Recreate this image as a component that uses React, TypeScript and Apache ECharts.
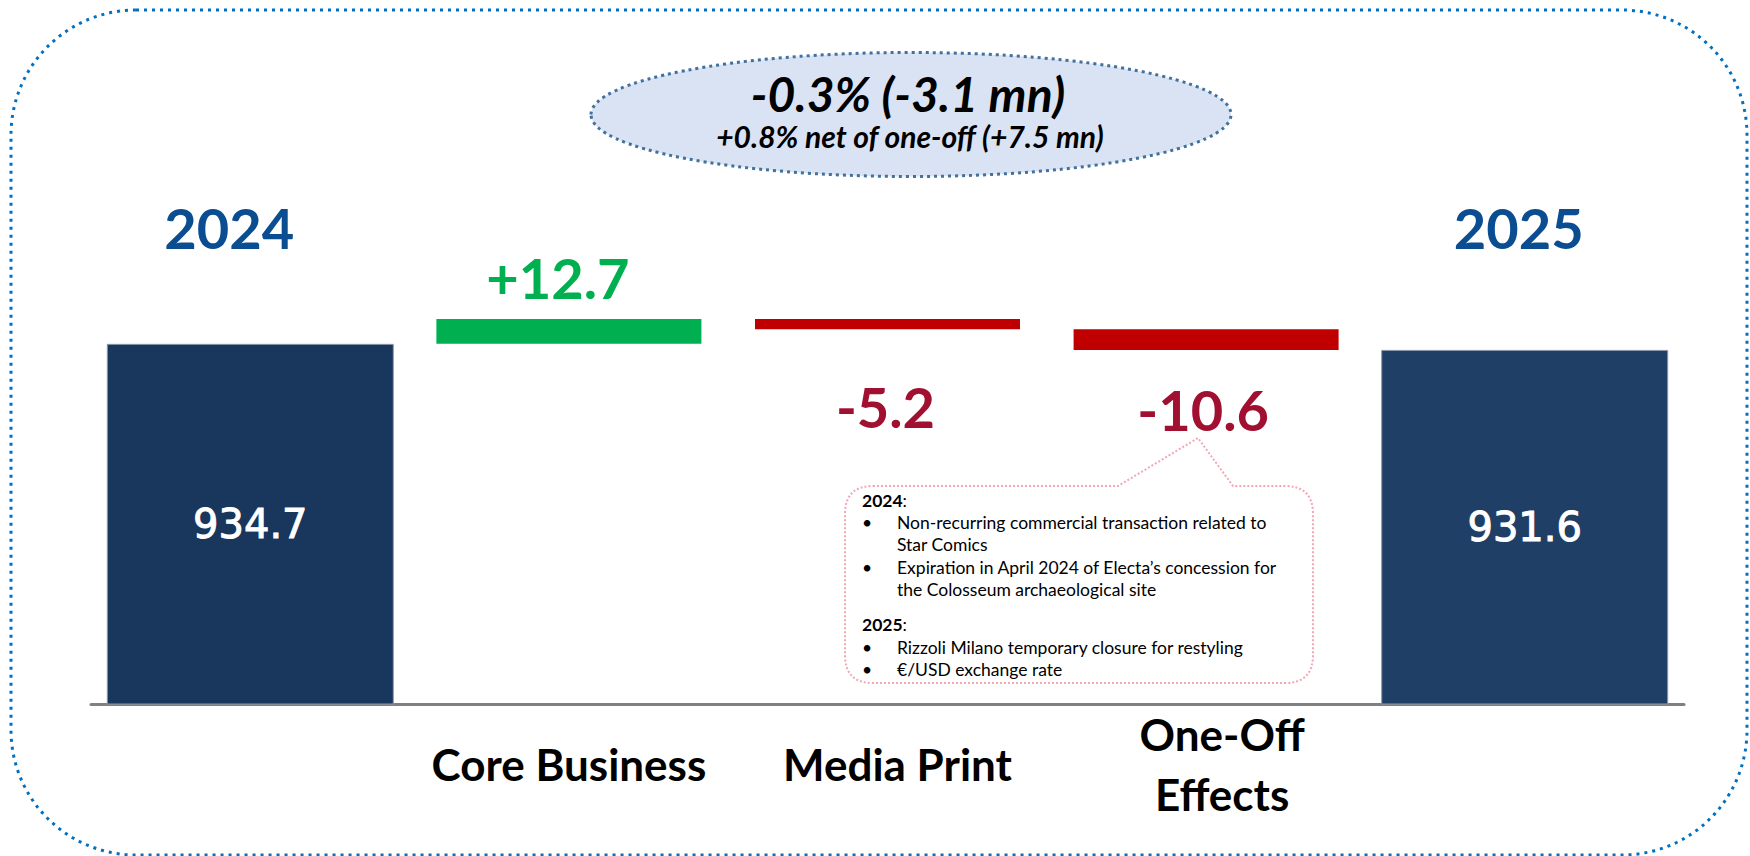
import React, { useEffect, useRef } from "react";
import * as echarts from "echarts";

// ---------- data ----------
const categories = ["2024", "Core Business", "Media Print", "One-Off Effects", "2025"];
const startValue = 934.7;
const endValue = 931.6;
const deltaValues = [12.7, -5.2, -10.6];
const deltaLabels = ["+12.7", "-5.2", "-10.6"];
const totalLabels = ["934.7", "931.6"];
const axisMin = 750;
const axisMax = 950;

const headline = "-0.3% (-3.1 mn)";
const subline = "+0.8% net of one-off (+7.5 mn)";

const noteSections = [
  {
    title: "2024",
    items: [
      ["Non-recurring commercial transaction related to", "Star Comics"],
      ["Expiration in April 2024 of Electa\u2019s concession for", "the Colosseum archaeological site"],
    ],
  },
  {
    title: "2025",
    items: [["Rizzoli Milano temporary closure for restyling"], ["\u20ac/USD exchange rate"]],
  },
];

// ---------- styles ----------
const FONT = "Lato, 'Open Sans', sans-serif";
const totalColors = ["#19365D", "#203F66"];
const upColor = "#00B050";
const downColor = "#C00000";
const upText = "#00B050";
const downText = "#A11030";
const yearColor = "#0A4D91";
const NOTE_FS = 17.5;
const CAT_FS = 44;

export default function App() {
  const ref = useRef<HTMLDivElement>(null);

  useEffect(() => {
    const el = ref.current;
    if (!el) return;

    // callout shape
    const L = 845, R = 1313, T = 486, B = 683, r = 28;
    const p1 = 1118, p2 = 1233, tipX = 1198, tipY = 438;
    const d =
      `M ${L + r} ${T} L ${p1} ${T} L ${tipX} ${tipY} L ${p2} ${T} L ${R - r} ${T} ` +
      `Q ${R} ${T} ${R} ${T + r} L ${R} ${B - r} Q ${R} ${B} ${R - r} ${B} ` +
      `L ${L + r} ${B} Q ${L} ${B} ${L} ${B - r} L ${L} ${T + r} Q ${L} ${T} ${L + r} ${T} Z`;
    echarts.graphic.registerShape("calloutBox", echarts.graphic.extendPath(d, {}));

    const chart = echarts.init(el, null, { renderer: "svg" });

    // waterfall computation
    const n = categories.length;
    const totalsData: any[] = [];
    for (let i = 0; i < n; i++) totalsData.push("-");
    totalsData[0] = {
      value: startValue,
      itemStyle: { color: totalColors[0] },
      label: { formatter: totalLabels[0] },
    };
    totalsData[n - 1] = {
      value: endValue,
      itemStyle: { color: totalColors[1] },
      label: { formatter: totalLabels[1] },
    };

    const labelLayout = [
      { position: "top", distance: 14, offset: [-11, 0] },
      { position: "bottom", distance: 49, offset: [-2, 0] },
      { position: "bottom", distance: 32, offset: [-3, 0] },
    ];

    const baseData: any[] = ["-"];
    const deltaData: any[] = ["-"];
    let running = startValue;
    deltaValues.forEach((dv, i) => {
      const next = running + dv;
      baseData.push(+Math.min(running, next).toFixed(3));
      const up = dv >= 0;
      deltaData.push({
        value: Math.abs(dv),
        itemStyle: { color: up ? upColor : downColor },
        label: {
          show: true,
          formatter: deltaLabels[i],
          color: up ? upText : downText,
          fontFamily: FONT,
          fontWeight: "bold",
          fontSize: 56,
          ...labelLayout[i],
        },
      });
      running = next;
    });
    baseData.push("-");
    deltaData.push("-");

    // notes
    const noteGraphics: any[] = [];
    let y = 500;
    const step = 22.4;
    noteSections.forEach((sec, si) => {
      if (si > 0) y += 12.6;
      noteGraphics.push({
        type: "text",
        style: {
          text: `{b|${sec.title}}:`,
          x: 862,
          y,
          fill: "#000",
          font: `${NOTE_FS}px ${FONT}`,
          verticalAlign: "middle",
          rich: { b: { fontWeight: "bold", fontSize: NOTE_FS, fontFamily: FONT, fill: "#000" } },
        },
      });
      y += step;
      sec.items.forEach((lines) => {
        noteGraphics.push({
          type: "text",
          style: { text: "\u2022", x: 862, y, fill: "#000", font: `${NOTE_FS}px ${FONT}`, verticalAlign: "middle" },
        });
        lines.forEach((ln) => {
          noteGraphics.push({
            type: "text",
            style: { text: ln, x: 897, y, fill: "#000", font: `${NOTE_FS}px ${FONT}`, verticalAlign: "middle" },
          });
          y += step;
        });
      });
    });

    const catRich = (padLeft: number) => ({
      fontFamily: FONT,
      fontWeight: "bold",
      fontSize: CAT_FS,
      lineHeight: 60,
      color: "#000",
      padding: [0, 0, 0, padLeft],
    });

    const option: any = {
      animation: false,
      backgroundColor: "#ffffff",
      grid: { left: 91, right: 66, top: 314, bottom: 152, containLabel: false },
      xAxis: [
        {
          type: "category",
          data: categories,
          position: "bottom",
          axisLine: { show: true, lineStyle: { color: "#808080", width: 3 } },
          axisTick: { show: false },
          axisLabel: {
            interval: 0,
            margin: 60,
            verticalAlign: "middle",
            color: "#000",
            fontFamily: FONT,
            fontWeight: "bold",
            fontSize: CAT_FS,
            lineHeight: 60,
            formatter: (v: string, idx: number) => {
              if (idx === 0 || idx === n - 1) return "";
              if (idx === 1) return `{c|${v}}`;
              if (idx === 2) return `{m|${v}}`;
              return v
                .split(" ")
                .map((p) => `{o|${p}}`)
                .join("\n");
            },
            rich: { c: catRich(0), m: catRich(20), o: catRich(32) },
          },
          splitLine: { show: false },
        },
        {
          type: "category",
          data: categories,
          position: "top",
          axisLine: { show: false },
          axisTick: { show: false },
          axisLabel: {
            interval: 0,
            margin: 87,
            verticalAlign: "middle",
            color: yearColor,
            fontFamily: FONT,
            fontWeight: "bold",
            fontSize: 56,
            formatter: (v: string, idx: number) => {
              if (idx === 0) return `{a|${v}}`;
              if (idx === n - 1) return `{b|${v}}`;
              return "";
            },
            rich: {
              a: { fontFamily: FONT, fontWeight: "bold", fontSize: 56, color: yearColor, padding: [0, 42, 0, 0] },
              b: { fontFamily: FONT, fontWeight: "bold", fontSize: 56, color: yearColor, padding: [0, 12, 0, 0] },
            },
          },
          splitLine: { show: false },
        },
      ],
      yAxis: {
        type: "value",
        min: axisMin,
        max: axisMax,
        show: false,
        splitLine: { show: false },
      },
      series: [
        {
          name: "Total",
          type: "bar",
          xAxisIndex: 1,
          barWidth: 287,
          data: totalsData,
          itemStyle: { borderColor: "#8d9aab", borderWidth: 1 },
          label: {
            show: true,
            position: "inside",
            color: "#ffffff",
            fontFamily: "'DejaVu Sans', sans-serif",
            fontSize: 40,
            textBorderColor: "#ffffff",
            textBorderWidth: 1,
          },
          z: 3,
        },
        {
          name: "Base",
          type: "bar",
          xAxisIndex: 0,
          stack: "wf",
          barWidth: 265,
          silent: true,
          itemStyle: { color: "rgba(0,0,0,0)" },
          data: baseData,
        },
        {
          name: "Delta",
          type: "bar",
          xAxisIndex: 0,
          stack: "wf",
          barWidth: 265,
          data: deltaData,
          z: 3,
        },
      ],
      graphic: [
        {
          type: "rect",
          shape: { x: 11, y: 10, width: 1736, height: 845, r: 125 },
          style: { fill: "none", stroke: "#0070C0", lineWidth: 3, lineDash: [3, 5] },
          z: 1,
        },
        {
          type: "ellipse",
          shape: { cx: 911, cy: 114.5, rx: 320, ry: 62 },
          style: { fill: "#DAE3F3", stroke: "#41719C", lineWidth: 3, lineDash: [3, 4] },
          z: 1,
        },
        {
          type: "text",
          style: {
            text: headline,
            x: 908,
            y: 93,
            textAlign: "center",
            verticalAlign: "middle",
            fill: "#000",
            font: `italic bold 48px ${FONT}`,
            lineHeight: 42,
          },
          z: 5,
        },
        {
          type: "text",
          style: {
            text: subline,
            x: 910,
            y: 136,
            textAlign: "center",
            verticalAlign: "middle",
            fill: "#000",
            font: `italic bold 30px ${FONT}`,
            lineHeight: 28,
          },
          z: 5,
        },
        {
          type: "calloutBox",
          x: 0,
          y: 0,
          style: { fill: "#ffffff", stroke: "#F2A7B5", lineWidth: 2, lineDash: [2, 2] },
          z: 1,
        },
        ...noteGraphics.map((g) => ({ ...g, z: 5 })),
      ],
    };

    chart.setOption(option);
    return () => chart.dispose();
  }, []);

  return (
    <div
      ref={ref}
      style={{ position: "fixed", left: 0, top: 0, width: 1750, height: 856, background: "#fff" }}
    />
  );
}
